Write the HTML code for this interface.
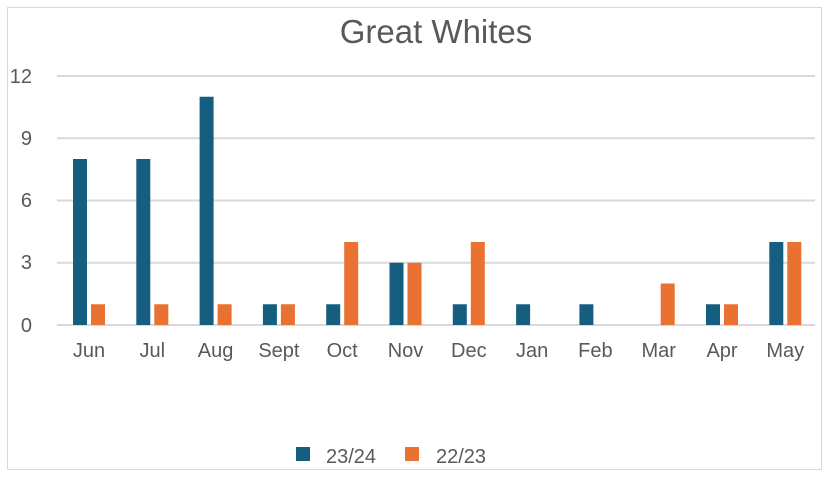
<!DOCTYPE html>
<html><head><style>body{margin:0;background:#fff}</style></head><body>
<svg width="830" height="480" xmlns="http://www.w3.org/2000/svg" font-family="Liberation Sans, sans-serif">
<rect x="0" y="0" width="830" height="480" fill="#fff"/>
<rect x="7.5" y="7.5" width="814" height="462" fill="none" stroke="#d9d9d9" stroke-width="1"/>
<text x="436" y="43" font-size="33" fill="#595959" text-anchor="middle">Great Whites</text>
<g stroke="#d9d9d9" stroke-width="2">
<line x1="57" x2="815" y1="76" y2="76"/><line x1="57" x2="815" y1="138.25" y2="138.25"/>
<line x1="57" x2="815" y1="200.5" y2="200.5"/><line x1="57" x2="815" y1="262.75" y2="262.75"/>
<line x1="57" x2="815" y1="325" y2="325"/>
</g>
<g font-size="20" fill="#595959" text-anchor="end">
<text x="32" y="83">12</text><text x="32" y="145">9</text><text x="32" y="207">6</text><text x="32" y="269">3</text><text x="32" y="332">0</text>
</g>
<g id="bars"></g>
<g font-size="20" fill="#595959" text-anchor="middle" id="labels"></g>
<rect x="296" y="447" width="14" height="14" fill="#165e80"/>
<text x="326" y="463" font-size="20" fill="#595959">23/24</text>
<rect x="405" y="447" width="14" height="14" fill="#e97132"/>
<text x="436" y="463" font-size="20" fill="#595959">22/23</text>
<script>
var m=["Jun","Jul","Aug","Sept","Oct","Nov","Dec","Jan","Feb","Mar","Apr","May"];
var a=[8,8,11,1,1,3,1,1,1,0,1,4],b=[1,1,1,1,4,3,4,0,0,2,1,4];
var g=document.getElementById("bars"),l=document.getElementById("labels"),ns="http://www.w3.org/2000/svg";
for(var i=0;i<12;i++){var x=73+63.3*i;
[[a[i],x,"#165e80"],[b[i],x+18,"#e97132"]].forEach(function(d){if(!d[0])return;var r=document.createElementNS(ns,"rect");var h=d[0]*20.75;r.setAttribute("x",d[1]);r.setAttribute("y",325-h);r.setAttribute("width",14);r.setAttribute("height",h);r.setAttribute("fill",d[2]);g.appendChild(r);});
var t=document.createElementNS(ns,"text");t.setAttribute("x",x+16);t.setAttribute("y",357);t.textContent=m[i];l.appendChild(t);}
</script>
</svg>
</body></html>
